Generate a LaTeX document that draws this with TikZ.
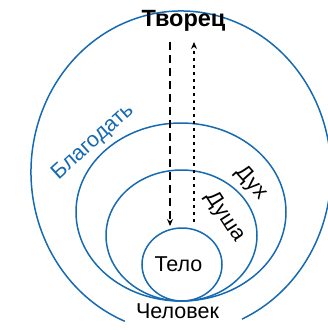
\documentclass[tikz,border=0pt]{standalone}
\usepackage{fontspec}
\setmainfont{Liberation Sans}
\usetikzlibrary{arrows.meta,shapes.geometric}
\definecolor{ringblue}{RGB}{22,106,178}
\tikzset{
  ring/.style={draw=ringblue,line width=1.5pt,ellipse,inner sep=0pt},
  lbl/.style={inner sep=0pt,font=\fontsize{21.5}{25}\selectfont},
  flow/.style={line width=1.5pt,-{Stealth[length=7pt,width=6pt]}}
}
\begin{document}
\begin{tikzpicture}[x=1pt,y=-1pt]
\useasboundingbox (0,0) rectangle (328,330);
% outer (grace) ring with gap at top
\draw[draw=ringblue,line width=1.5pt] (181,172) ++(112:150 and 161) arc[start angle=112,end angle=426,x radius=150,y radius=161];
\node[ring,minimum width=210pt,minimum height=178pt] (dukh) at (181,212) {};
\node[ring,minimum width=151pt,minimum height=131pt] (dusha) at (181.5,235.5) {};
\node[ring,minimum width=80pt,minimum height=73pt] (telo) at (182,264.5) {};
\node[lbl,anchor=base,font=\fontsize{23.5}{27}\selectfont\bfseries] (tvorets) at (183.5,26) {Творец};
\node[lbl,anchor=base] (telotxt) at (178.5,271) {Тело};
\node[lbl,anchor=base] (chelovek) at (177.5,318) {Человек};
\node[lbl,text=ringblue,rotate=42] (blag) at (93,142) {Благодать};
\node[lbl,rotate=-48] (dukhtxt) at (251,183) {Дух};
\node[lbl,rotate=-57] (dushatxt) at (225,217) {Душа};
\coordinate (downstart) at (170,42);
\coordinate (downend) at (170,226);
\coordinate (upstart) at (194,222);
\coordinate (upend) at (194,42);
\draw[flow,dash pattern=on 8pt off 5pt] (downstart) -- (downend);
\draw[flow,dash pattern=on 3pt off 4pt] (upstart) -- (upend);
\end{tikzpicture}
\end{document}
